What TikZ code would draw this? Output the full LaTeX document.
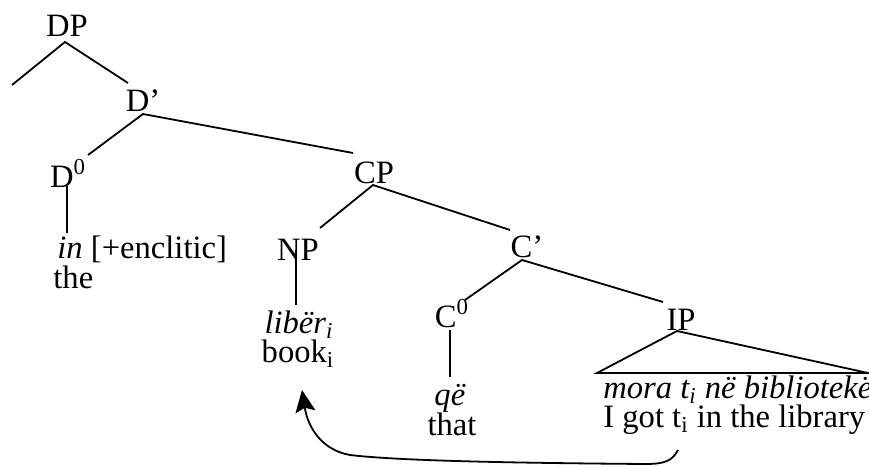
\documentclass[tikz,border=0pt]{standalone}
\usepackage{fontspec}
\setmainfont{Liberation Serif}
\usetikzlibrary{arrows.meta}
\begin{document}
\begin{tikzpicture}[x=0.5pt,y=-0.5pt,
  lbl/.style={inner sep=0pt,anchor=base,font=\fontsize{16.3}{19}\selectfont},
  lblw/.style={inner sep=0pt,anchor=base west,font=\fontsize{16.3}{19}\selectfont},
  edge/.style={line width=0.9pt},
  move/.style={line width=0.9pt,-{Stealth[length=11pt,width=10pt,inset=2pt]}}]
\useasboundingbox (0,0) rectangle (869,466);
% labels
\node[lbl] (DP) at (67,36) {DP};
\node[lbl] (Dbar) at (143,112) {D’};
\node[lbl] (D0) at (68,187) {D\textsuperscript{0}};
\node[lblw] (in) at (57,258) {\textit{in} [+enclitic]};
\node[lblw] (the) at (53,288) {the};
\node[lbl] (CP) at (374,183) {CP};
\node[lbl] (NP) at (298,260) {NP};
\node[lbl] (liber) at (299,333) {\textit{libër\textsubscript{i}}};
\node[lbl] (book) at (298,362) {book\textsubscript{i}};
\node[lbl] (Cbar) at (527,257) {C’};
\node[lbl] (C0) at (452,327) {C\textsuperscript{0}};
\node[lbl] (qe) at (450,405) {\textit{që}};
\node[lbl] (that) at (452,435) {that};
\node[lbl] (IP) at (681,330) {IP};
\node[lblw] (mora) at (603,398) {\textit{mora t\textsubscript{i} në bibliotekë}};
\node[lblw] (igot) at (603,427) {I got t\textsubscript{i} in the library};
% branch points
\coordinate (dpA) at (65,42);
\coordinate (dpL) at (12,85);
\coordinate (dpR) at (128,83);
\coordinate (dbA) at (143,114);
\coordinate (dbL) at (88,155);
\coordinate (dbR) at (353,153);
\coordinate (d0T) at (67,186);
\coordinate (d0B) at (67,233);
\coordinate (cpA) at (373,185);
\coordinate (cpL) at (320,228);
\coordinate (cpR) at (510,230);
\coordinate (npT) at (296,250);
\coordinate (npB) at (296,305);
\coordinate (cbA) at (522,260);
\coordinate (cbL) at (465,300);
\coordinate (cbR) at (663,302);
\coordinate (c0T) at (450,330);
\coordinate (c0B) at (450,377);
\coordinate (ipA) at (677,331);
\coordinate (ipL) at (597,373);
\coordinate (ipR) at (868,373);
\coordinate (trace) at (678,450);
\coordinate (tip) at (302,390);
% edges
\draw[edge] (dpL) -- (dpA) -- (dpR);
\draw[edge] (dbL) -- (dbA) -- (dbR);
\draw[edge] (d0T) -- (d0B);
\draw[edge] (cpL) -- (cpA) -- (cpR);
\draw[edge] (npT) -- (npB);
\draw[edge] (cbL) -- (cbA) -- (cbR);
\draw[edge] (c0T) -- (c0B);
\draw[edge] (ipL) -- (ipA) -- (ipR) -- cycle;
% movement arrow
\draw[move] (trace) .. controls (672,461) and (665,464) .. (645,464)
  .. controls (520,463) and (400,461) .. (350,455)
  .. controls (322,450) and (308,428) .. (tip);
\end{tikzpicture}
\end{document}
